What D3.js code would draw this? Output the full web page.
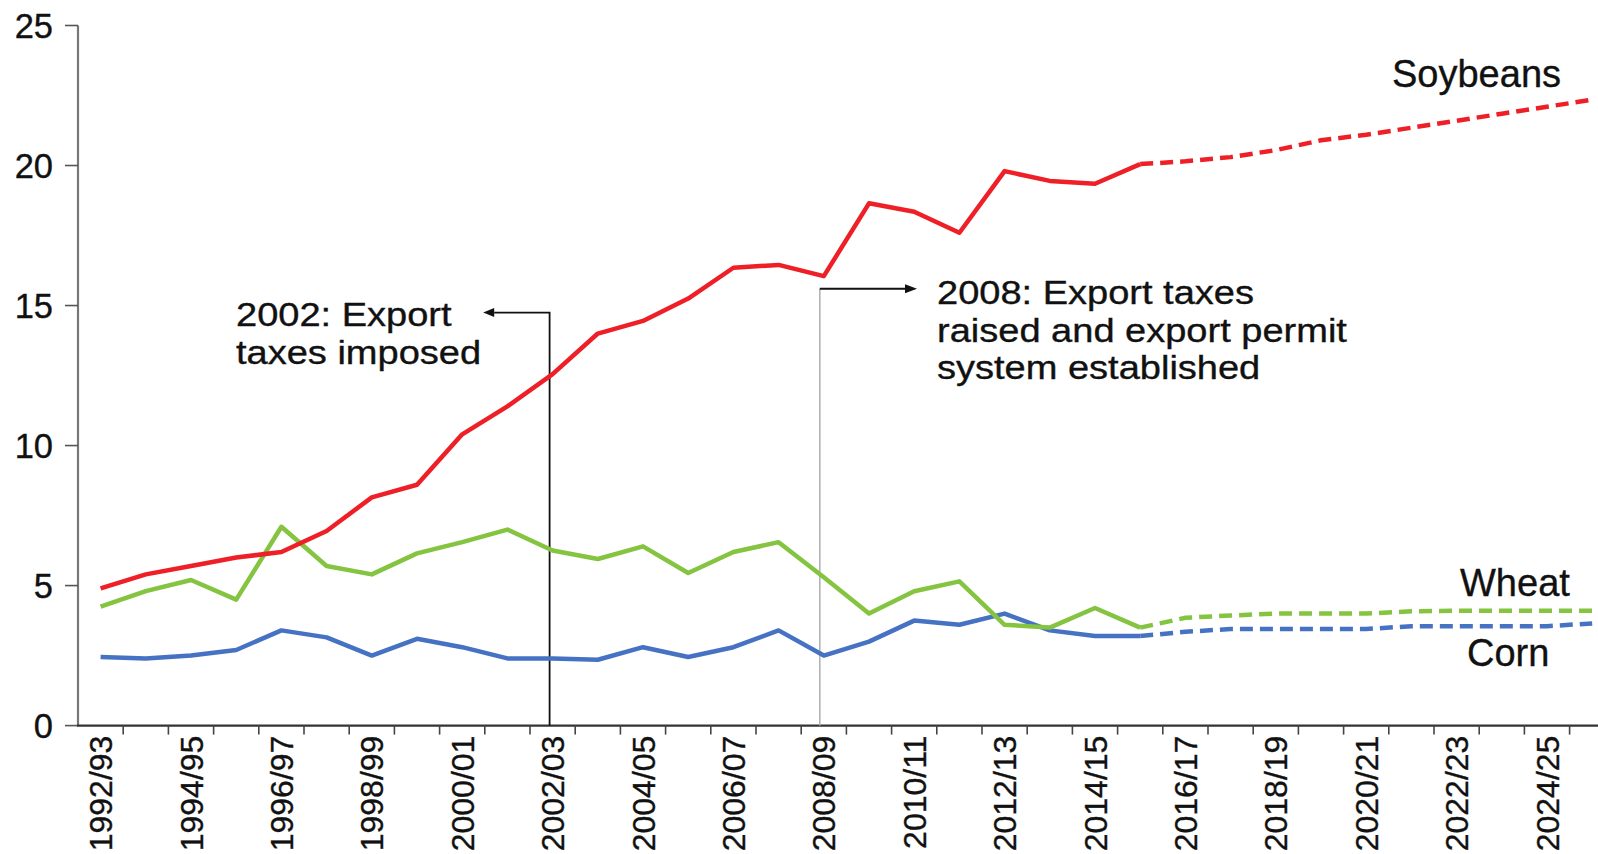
<!DOCTYPE html>
<html><head><meta charset="utf-8">
<script src="https://cdn.jsdelivr.net/npm/d3@7"></script>
<style>
body{margin:0;background:#fff;}
svg{display:block;}
text{font-family:"Liberation Sans", Arial, Helvetica, sans-serif; fill:#111; stroke:#111; stroke-width:0.35px;}
</style>
</head><body>
<svg id="chart" width="1598" height="854"></svg>
<script>
const categories = ["1992/93","1993/94","1994/95","1995/96","1996/97","1997/98","1998/99","1999/00","2000/01","2001/02","2002/03","2003/04","2004/05","2005/06","2006/07","2007/08","2008/09","2009/10","2010/11","2011/12","2012/13","2013/14","2014/15","2015/16","2016/17","2017/18","2018/19","2019/20","2020/21","2021/22","2022/23","2023/24","2024/25","2025/26"];
const soybeans = [4.9,5.4,5.7,6.0,6.2,6.95,8.15,8.6,10.4,11.4,12.55,14.0,14.45,15.25,16.35,16.45,16.05,18.65,18.35,17.6,19.8,19.45,19.35,20.05,20.15,20.3,20.55,20.9,21.1,21.35,21.6,21.85,22.1,22.35];
const wheat = [4.25,4.8,5.2,4.5,7.1,5.7,5.4,6.15,6.55,7.0,6.25,5.95,6.4,5.45,6.2,6.55,5.3,4.0,4.8,5.15,3.6,3.5,4.2,3.5,3.85,3.93,4.0,4.0,4.0,4.08,4.1,4.1,4.1,4.1];
const corn = [2.45,2.4,2.5,2.7,3.4,3.15,2.5,3.1,2.8,2.4,2.4,2.35,2.8,2.45,2.8,3.4,2.5,3.0,3.75,3.6,4.0,3.4,3.2,3.2,3.35,3.45,3.45,3.45,3.45,3.55,3.55,3.55,3.55,3.65];
const seriesNames = ["Soybeans","Wheat","Corn"];
const lastActual = "2015/16";
const yTickValues = [0,5,10,15,20,25];
const xTickLabels = ["1992/93","1994/95","1996/97","1998/99","2000/01","2002/03","2004/05","2006/07","2008/09","2010/11","2012/13","2014/15","2016/17","2018/19","2020/21","2022/23","2024/25"];
const annotation1 = ["2002: Export","taxes imposed"];
const annotation2 = ["2008: Export taxes","raised and export permit","system established"];

const svg = d3.select("#chart");
const x = d3.scaleBand().domain(categories).range([78, 78 + 34*45.2]).padding(0);
const xc = c => x(c) + x.bandwidth()/2;
const y = d3.scaleLinear().domain([0,25]).range([725.6, 25.5]);

// Y axis
const yAx = svg.append("g").attr("transform","translate(78,0)");
yAx.append("line").attr("x1",0).attr("x2",0).attr("y1",y(25)).attr("y2",y(0)).attr("stroke","#777").attr("stroke-width",2.2);
yAx.selectAll("line.t").data(yTickValues).join("line").attr("class","t")
  .attr("x1",-13).attr("x2",0).attr("y1",d=>y(d)).attr("y2",d=>y(d)).attr("stroke","#555").attr("stroke-width",1.6);
yAx.selectAll("text").data(yTickValues).join("text")
  .attr("x",-25).attr("y",d=>y(d)).attr("dy","0.36em").attr("text-anchor","end")
  .attr("font-size",34.5).text(d=>d);

// X axis
const xAx = svg.append("g");
xAx.append("line").attr("x1",77).attr("x2",1598).attr("y1",y(0)).attr("y2",y(0)).attr("stroke","#333").attr("stroke-width",2.2);
const boundaries = categories.map(c=>x(c)).concat([x(categories[categories.length-1])+x.bandwidth()]).slice(1);
xAx.selectAll("line.t").data(boundaries).join("line").attr("class","t")
  .attr("x1",d=>d).attr("x2",d=>d).attr("y1",y(0)).attr("y2",y(0)+9).attr("stroke","#444").attr("stroke-width",1.6);
xAx.selectAll("text").data(xTickLabels).join("text")
  .attr("transform",d=>`translate(${xc(d)},${y(0)+10}) rotate(-90)`)
  .attr("text-anchor","end").attr("dy","0.36em").attr("font-size",32).text(d=>d);

// Annotations
const ax1 = xc("2002/03") - 3, ay1 = y(14.75);
svg.append("path").attr("d",`M${ax1},${y(0)}V${ay1}H${xc("2000/01")+ 32}`).attr("fill","none").attr("stroke","#111").attr("stroke-width",1.8);
svg.append("path").attr("d",`M${xc("2000/01")+21},${ay1} l11,-4.5 l0,9 z`).attr("fill","#111");
svg.selectAll("text.a1").data(annotation1).join("text").attr("class","a1")
  .attr("transform",(d,i)=>`translate(236,${326 + i*37.5}) scale(1.17,1)`)
  .attr("font-size",32.5).text(d=>d);

const ax2 = xc("2008/09") - 4, ay2 = y(15.6);
svg.append("line").attr("x1",ax2).attr("x2",ax2).attr("y1",y(0)).attr("y2",ay2).attr("stroke","#b3b3b3").attr("stroke-width",1.6);
svg.append("line").attr("x1",ax2).attr("x2",906).attr("y1",ay2).attr("y2",ay2).attr("stroke","#111").attr("stroke-width",1.8);
svg.append("path").attr("d",`M917,${ay2} l-12,-4.5 l0,9 z`).attr("fill","#111");
svg.selectAll("text.a2").data(annotation2).join("text").attr("class","a2")
  .attr("transform",(d,i)=>`translate(937,${304 + i*37.5}) scale(1.17,1)`)
  .attr("font-size",32.5).text(d=>d);

// Lines
const colors = {"Soybeans":"#ee1f26","Wheat":"#84c441","Corn":"#4672c4"};
const values = {"Soybeans":soybeans,"Wheat":wheat,"Corn":corn};
const cut = categories.indexOf(lastActual);
const line = d3.line().x(d=>xc(d.c)).y(d=>y(d.v));
seriesNames.slice().reverse().forEach(name=>{
  const pts = categories.map((c,i)=>({c, v: values[name][i]}));
  svg.append("path").datum(pts.slice(0,cut+1)).attr("d",line)
    .attr("fill","none").attr("stroke",colors[name]).attr("stroke-width",4.5).attr("stroke-linejoin","round");
  svg.append("path").datum(pts.slice(cut)).attr("d",line)
    .attr("fill","none").attr("stroke",colors[name]).attr("stroke-width",4.5).attr("stroke-dasharray","13,7");
});

// Series labels
const labelPos = {"Soybeans":[1392,87],"Wheat":[1460,596],"Corn":[1467,666]};
seriesNames.forEach(n=>{
  svg.append("text").attr("x",labelPos[n][0]).attr("y",labelPos[n][1]).attr("font-size",38).text(n);
});
</script>
</body></html>
